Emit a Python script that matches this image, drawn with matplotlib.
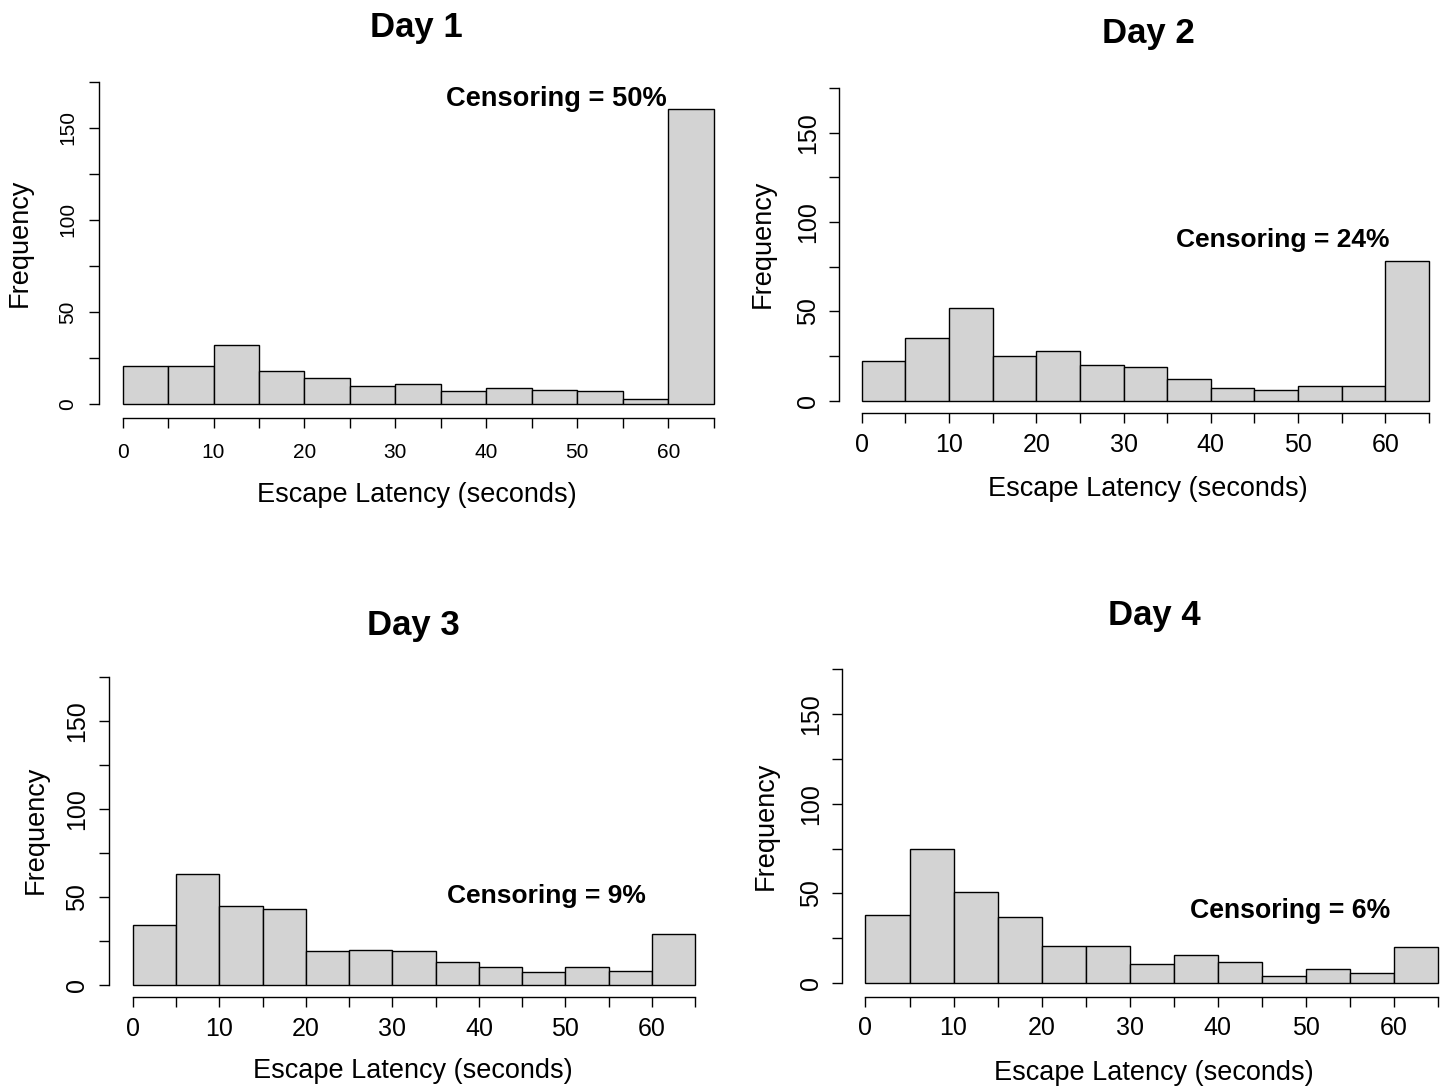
import numpy as np
import matplotlib
matplotlib.use("Agg")
import matplotlib.pyplot as plt

plt.rcParams['font.family'] = ['Liberation Sans', 'DejaVu Sans']

# Histogram bins (seconds) and counts per day
bin_edges = np.arange(0, 70, 5)
day_titles = ["Day 1", "Day 2", "Day 3", "Day 4"]
censoring = ["Censoring = 50%", "Censoring = 24%", "Censoring = 9%", "Censoring = 6%"]
counts_day1 = [21, 21, 32, 18, 14, 10, 11, 7, 9, 8, 7, 3, 160]
counts_day2 = [22, 35, 52, 25, 28, 20, 19, 12, 7, 6, 8, 8, 78]
counts_day3 = [34, 63, 45, 43, 19, 20, 19, 13, 10, 7, 10, 8, 29]
counts_day4 = [38, 75, 51, 37, 21, 21, 11, 16, 12, 4, 8, 6, 20]
x_major = [0, 10, 20, 30, 40, 50, 60]
x_minor = [5, 15, 25, 35, 45, 55, 65]
y_major = [0, 50, 100, 150]
y_minor = [25, 75, 125, 175]
x_label = "Escape Latency (seconds)"
y_label = "Frequency"

W, H = 1456, 1088
fig = plt.figure(figsize=(W / 100, H / 100), dpi=100)


def put_text(x, y, s, **kw):
    fig.text(x / W, 1 - y / H, s, **kw)


# Layout of each panel in pixels: x of 0 and 60, y of 0 and 150,
# x of the y-axis line, y of the x-axis line
panels = [
    dict(counts=counts_day1, frame=(122.6, 668.2, 404.3, 127.7, 98.5, 418.0),
         tick_fs=15, xpad=10.5, ypad=8,
         title_xy=(416, 36.7), cens_xy=(556, 106.5), cens_fs=19.6,
         xlab_xy=(417, 502), ylab_xy=(20, 242.5)),
    dict(counts=counts_day2, frame=(861.8, 1385.3, 400.7, 132.7, 839.0, 413.3),
         tick_fs=18, xpad=7, ypad=6.5,
         title_xy=(1148, 43.3), cens_xy=(1283, 246.5), cens_fs=19,
         xlab_xy=(1148, 496), ylab_xy=(763, 243.5)),
    dict(counts=counts_day3, frame=(132.7, 652.0, 984.7, 721.3, 109.0, 997.3),
         tick_fs=18, xpad=7, ypad=7,
         title_xy=(413, 635), cens_xy=(546, 903.5), cens_fs=19,
         xlab_xy=(413, 1078), ylab_xy=(36, 830)),
    dict(counts=counts_day4, frame=(865.5, 1393.6, 983.3, 713.7, 842.4, 996.7),
         tick_fs=18, xpad=7, ypad=7,
         title_xy=(1154, 625), cens_xy=(1290, 917.5), cens_fs=19.2,
         xlab_xy=(1154, 1080), ylab_xy=(766, 825.5)),
]

for p, title, cens in zip(panels, day_titles, censoring):
    x0, x60, y0, y150, ax_x, ax_y = p['frame']
    sx = (x60 - x0) / 60.0
    sy = (y0 - y150) / 150.0
    right = x0 + 67.0 * sx
    top = y0 - 182.0 * sy
    ax = fig.add_axes([ax_x / W, 1 - ax_y / H, (right - ax_x) / W, (ax_y - top) / H])
    ax.set_xlim((ax_x - x0) / sx, (right - x0) / sx)
    ax.set_ylim(-(ax_y - y0) / sy, (y0 - top) / sy)
    ax.patch.set_alpha(0)

    ax.bar(bin_edges[:-1], p['counts'], width=5, align='edge',
           color='#d3d3d3', edgecolor='black', linewidth=1.0, clip_on=False)

    for side in ('top', 'right'):
        ax.spines[side].set_visible(False)
    ax.spines['left'].set_bounds(0, 175)
    ax.spines['bottom'].set_bounds(0, 65)
    for side in ('left', 'bottom'):
        ax.spines[side].set_linewidth(1.0)

    ax.set_xticks(x_major)
    ax.set_xticks(x_minor, minor=True)
    ax.set_yticks(y_major)
    ax.set_yticks(y_minor, minor=True)
    ax.set_xticklabels([str(v) for v in x_major])
    ax.set_yticklabels([str(v) for v in y_major])
    ax.tick_params(which='both', direction='out', length=7.2, width=1.0)
    ax.tick_params(axis='x', which='major', labelsize=p['tick_fs'], pad=p['xpad'])
    ax.tick_params(axis='y', which='major', labelsize=p['tick_fs'], pad=p['ypad'],
                   labelrotation=90)
    for lab in ax.get_yticklabels():
        lab.set_verticalalignment('center')

    put_text(*p['title_xy'], title, fontsize=25, fontweight='bold',
             ha='center', va='baseline')
    put_text(*p['cens_xy'], cens, fontsize=p['cens_fs'], fontweight='bold',
             ha='center', va='baseline')
    put_text(*p['xlab_xy'], x_label, fontsize=19.5, ha='center', va='baseline')
    put_text(*p['ylab_xy'], y_label, fontsize=19.5, ha='center', va='center',
             rotation=90)

fig.savefig("out.png", dpi=100, facecolor='white')
